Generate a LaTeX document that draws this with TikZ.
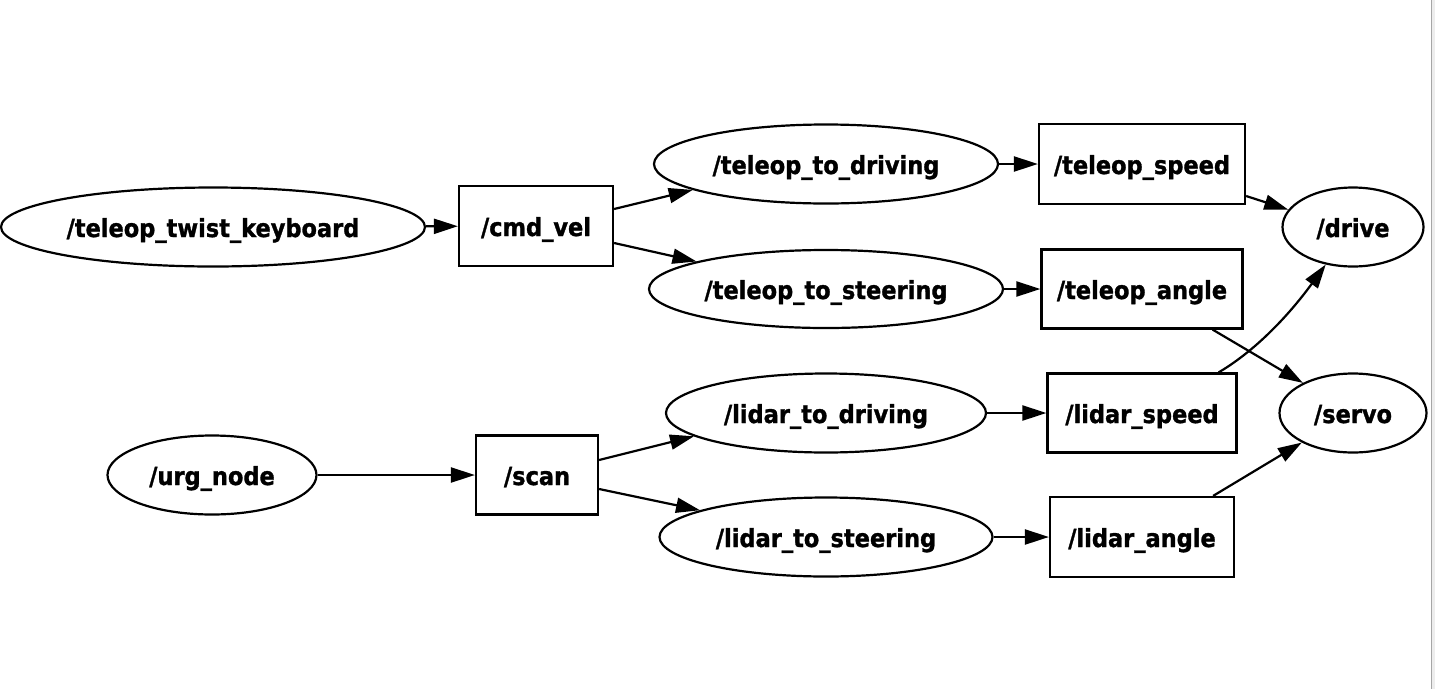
\documentclass[tikz,border=0pt]{standalone}
\usepackage{fontspec}
\setmainfont{DejaVu Sans Condensed}[BoldFeatures={FakeBold=1.2}]
\usetikzlibrary{shapes.geometric,arrows.meta}
\begin{document}
\begin{tikzpicture}[x=1pt,y=-1pt,
  every node/.style={font=\bfseries\fontsize{25}{28}\selectfont, line width=2.2pt, draw, inner sep=0pt, text height=24pt, text depth=4pt},
  ell/.style={ellipse},
  box/.style={rectangle},
  edge/.style={line width=2.2pt, -{Triangle[length=24pt,width=15pt]}}]
\useasboundingbox (0,0) rectangle (1435,689);
\fill[white] (0,0) rectangle (1435,689);
\fill[black!7] (1431,0) rectangle (1435,689);
\draw[black!35, line width=1pt] (1431,0) -- (1431,689);

\node[ell, minimum width=424, minimum height=79] (kb) at (213,227) {/teleop\_twist\_keyboard};
\node[box, minimum width=154, minimum height=80] (cv) at (536,226) {/cmd\_vel};
\node[ell, minimum width=344, minimum height=79] (ttd) at (826,164) {/teleop\_to\_driving};
\node[ell, minimum width=354, minimum height=78] (tts) at (826,289) {/teleop\_to\_steering};
\node[box, minimum width=206, minimum height=80] (tsp) at (1142,164) {/teleop\_speed};
\node[box, minimum width=201, minimum height=79] (tan) at (1142,289) {/teleop\_angle};
\node[ell, minimum width=141, minimum height=79] (dr) at (1353,227) {/drive};
\node[ell, minimum width=147, minimum height=79] (sv) at (1353,413) {/servo};

\node[ell, minimum width=209, minimum height=79] (urg) at (212,475) {/urg\_node};
\node[box, minimum width=122, minimum height=79] (sc) at (537,475) {/scan};
\node[ell, minimum width=320, minimum height=79] (ltd) at (826,413) {/lidar\_to\_driving};
\node[ell, minimum width=333, minimum height=79] (lts) at (826,537) {/lidar\_to\_steering};
\node[box, minimum width=189, minimum height=79] (lsp) at (1142,413) {/lidar\_speed};
\node[box, minimum width=184, minimum height=80] (lan) at (1142,537) {/lidar\_angle};

\draw[edge] (kb) -- (cv);
\draw[edge] ([yshift=17pt]cv.east) -- (ttd.191.5);
\draw[edge] ([yshift=-17pt]cv.east) -- (tts.168);
\draw[edge] (ttd) -- (tsp);
\draw[edge] (tts) -- (tan);
\draw[edge] ([yshift=-32pt]tsp.east) -- (dr.165);
\draw[edge] ([xshift=-31pt]tan.south east) -- (sv.149.5);
\draw[edge] ([xshift=-19pt]lsp.north east) .. controls (1265,345) and (1300,300) .. (dr.234);

\draw[edge] (urg) -- (sc);
\draw[edge] ([yshift=15pt]sc.east) -- (ltd.190.3);
\draw[edge] ([yshift=-14pt]sc.east) -- (lts.168.3);
\draw[edge] (ltd) -- (lsp);
\draw[edge] (lts) -- (lan);
\draw[edge] ([xshift=-22pt]lan.north east) -- (sv.210.5);
\end{tikzpicture}
\end{document}
